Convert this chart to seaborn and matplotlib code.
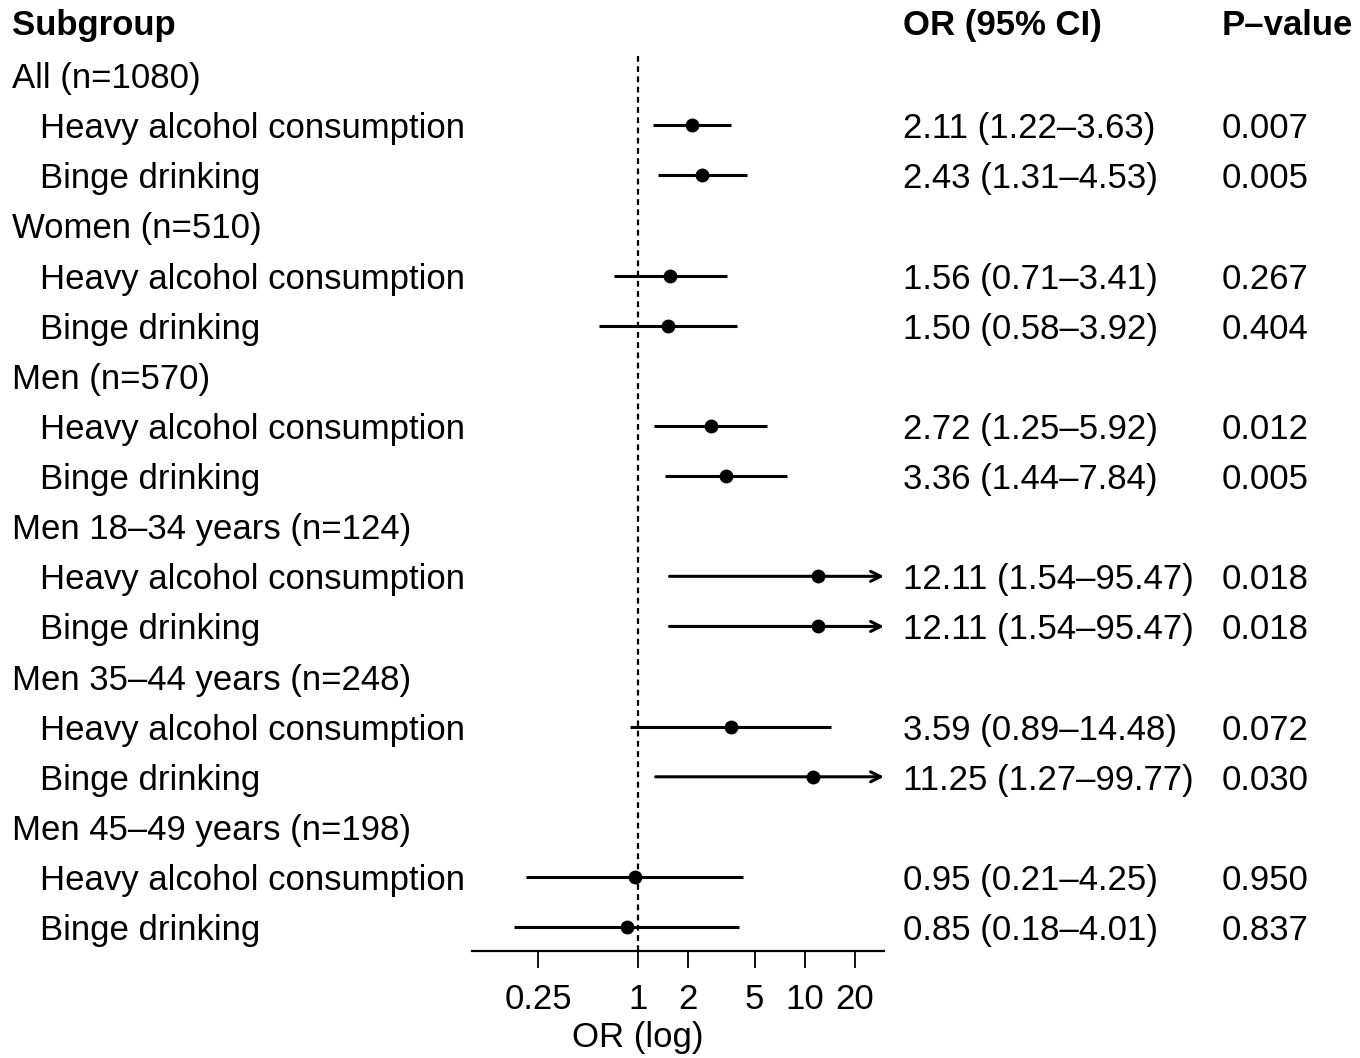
import numpy as np
import pandas as pd
import matplotlib
matplotlib.use("Agg")
import matplotlib.pyplot as plt
import matplotlib.transforms as mtransforms
import seaborn as sns

# ---------------- data ----------------
groups = ["All (n=1080)", "Women (n=510)", "Men (n=570)",
          "Men 18\u201334 years (n=124)", "Men 35\u201344 years (n=248)",
          "Men 45\u201349 years (n=198)"]
exposures = ["Heavy alcohol consumption", "Binge drinking"]
or_vals = [2.11, 2.43, 1.56, 1.50, 2.72, 3.36, 12.11, 12.11, 3.59, 11.25, 0.95, 0.85]
ci_low = [1.22, 1.31, 0.71, 0.58, 1.25, 1.44, 1.54, 1.54, 0.89, 1.27, 0.21, 0.18]
ci_high = [3.63, 4.53, 3.41, 3.92, 5.92, 7.84, 95.47, 95.47, 14.48, 99.77, 4.25, 4.01]
p_values = ["0.007", "0.005", "0.267", "0.404", "0.012", "0.005",
            "0.018", "0.018", "0.072", "0.030", "0.950", "0.837"]
tick_vals = [0.25, 1, 2, 5, 10, 20]
tick_labels = ["0.25", "1", "2", "5", "10", "20"]
x_limits = (0.1, 30)

# ---------------- build table ----------------
rows = []
r = 1
for gi, g in enumerate(groups):
    rows.append(dict(row=r, label=g, kind="group"))
    r += 1
    for ei, e in enumerate(exposures):
        k = gi * 2 + ei
        rows.append(dict(row=r, label=e, kind="item", OR=or_vals[k], lo=ci_low[k],
                         hi=ci_high[k], p=p_values[k]))
        r += 1
df = pd.DataFrame(rows)
items = df[df.kind == "item"].copy()

# ---------------- figure ----------------
sns.set_theme(style="white")
plt.rcParams['font.family'] = ['Liberation Sans', 'DejaVu Sans']
fs = 25

W, H = 1360, 1058
fig = plt.figure(figsize=(W / 100, H / 100), dpi=100)
fig.patch.set_facecolor("white")

ax_left, ax_right = 472 / W, 884 / W
ax_bottom = 1 - 951 / H
ax = fig.add_axes([ax_left, ax_bottom, ax_right - ax_left, 1 - ax_bottom])
ax.set_facecolor("none")
ax.set_xscale("log")
ax.set_xlim(*x_limits)
row_px = 50.12
row0_px = 25.0
ax.set_ylim((951 - row0_px) / row_px, -row0_px / row_px)
y_bottom = (951 - row0_px) / row_px

# reference line
ax.vlines(1, 0.62, y_bottom, colors="black", lw=1.6,
          linestyles=(0, (2.6, 2.0)), zorder=1)

# CIs
for _, it in items.iterrows():
    if it.hi > x_limits[1]:
        ax.annotate("", xy=(x_limits[1], it.row), xytext=(it.lo, it.row),
                    arrowprops=dict(arrowstyle="->,head_length=0.6,head_width=0.3",
                                    lw=2.2, color="black", shrinkA=0, shrinkB=0),
                    zorder=2)
    else:
        ax.hlines(it.row, it.lo, it.hi, colors="black", lw=2.2, zorder=2)

sns.scatterplot(data=items, x="OR", y="row", ax=ax, color="black", s=100,
                edgecolor="black", linewidth=0, zorder=3, legend=False)

ax.set_xlabel("")
ax.set_ylabel("")
ax.set_yticks([])
ax.set_xticks(tick_vals)
ax.set_xticklabels(tick_labels, fontsize=fs)
ax.xaxis.set_minor_locator(matplotlib.ticker.NullLocator())
ax.tick_params(axis="x", which="major", direction="out", length=12, width=1.3,
               color="black", pad=11, labelcolor="black", bottom=True)
for s in ["top", "left", "right"]:
    ax.spines[s].set_visible(False)
ax.spines["bottom"].set_color("black")
ax.spines["bottom"].set_linewidth(1.6)

fig.text(638 / W, 1 - 1037 / H, "OR (log)", ha="center", va="center",
         fontsize=fs, color="black")

# text columns
trans = mtransforms.blended_transform_factory(fig.transFigure, ax.transData)
kw = dict(transform=trans, fontsize=fs, va="center_baseline", color="black",
          clip_on=False)
hdr_row = -0.06
ax.text(12 / W, hdr_row, "Subgroup", fontweight="bold", **kw)
ax.text(903 / W, hdr_row, "OR (95% CI)", fontweight="bold", **kw)
ax.text(1222 / W, hdr_row, "P\u2013value", fontweight="bold", **kw)
for _, rr in df.iterrows():
    if rr.kind == "group":
        ax.text(12 / W, rr.row, rr.label, **kw)
    else:
        ax.text(40 / W, rr.row, rr.label, **kw)
        ax.text(903 / W, rr.row,
                f"{rr.OR:.2f} ({rr.lo:.2f}\u2013{rr.hi:.2f})", **kw)
        ax.text(1222 / W, rr.row, rr.p, **kw)

fig.savefig("out.png", dpi=100, facecolor="white")
